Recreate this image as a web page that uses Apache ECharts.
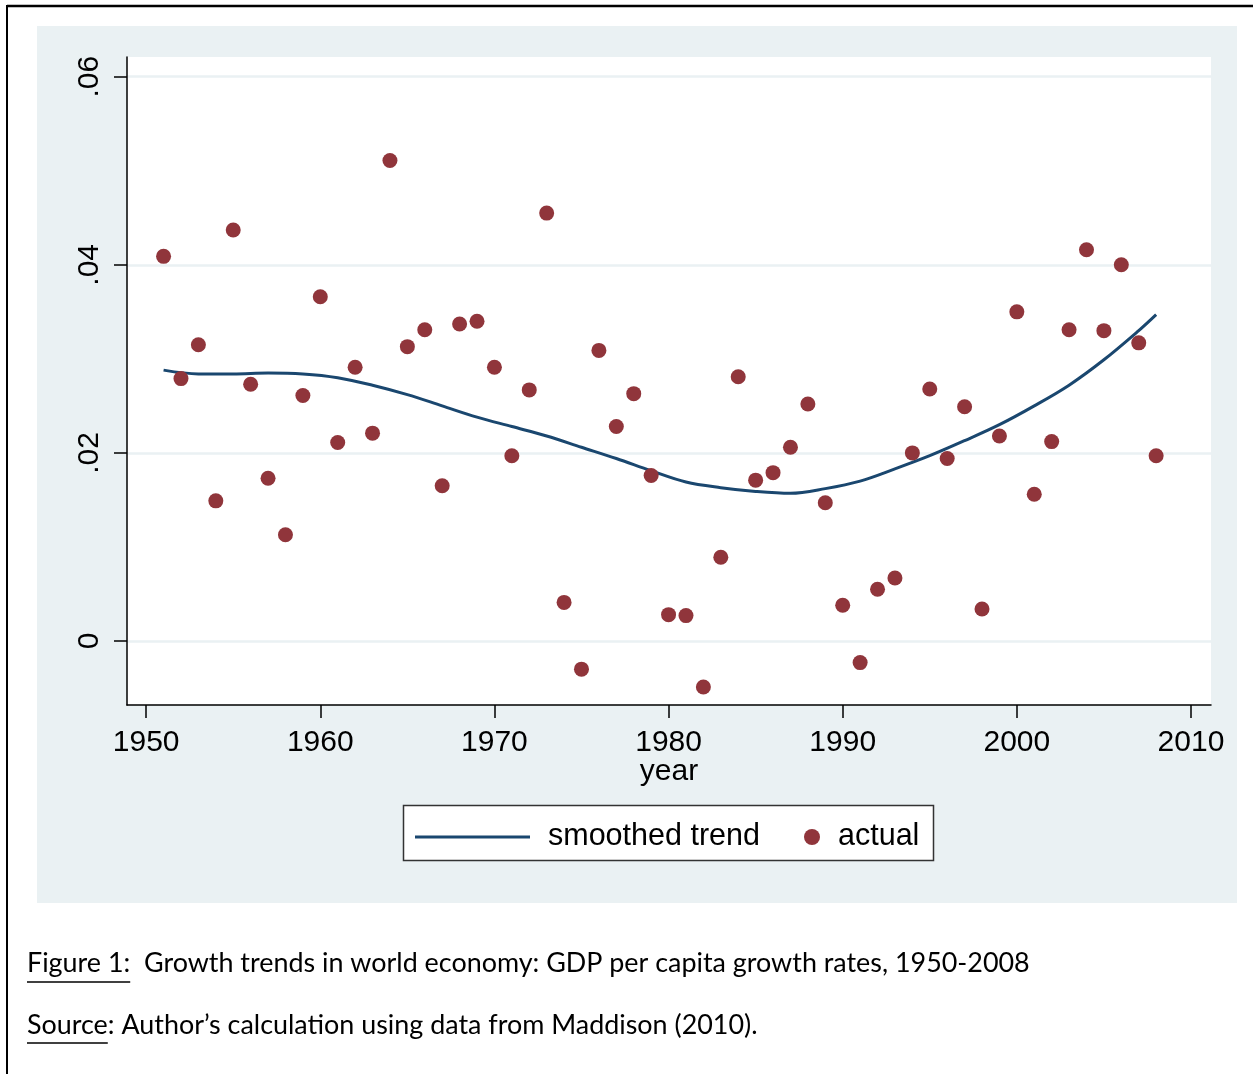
<!DOCTYPE html>
<html>
<head>
<meta charset="utf-8">
<script src="https://cdn.jsdelivr.net/npm/echarts@6/dist/echarts.min.js"></script>
<style>
html,body{margin:0;padding:0;background:#fff;}
#chart{width:1253px;height:1074px;}
</style>
</head>
<body>
<div id="chart"></div>
<script>
// ---- data ----
const actualYears = [1951,1952,1953,1954,1955,1956,1957,1958,1959,1960,1961,1962,1963,1964,1965,1966,1967,1968,1969,1970,1971,1972,1973,1974,1975,1976,1977,1978,1979,1980,1981,1982,1983,1984,1985,1986,1987,1988,1989,1990,1991,1992,1993,1994,1995,1996,1997,1998,1999,2000,2001,2002,2003,2004,2005,2006,2007,2008];
const actualValues = [0.0409,0.0279,0.0315,0.0149,0.0437,0.0273,0.0173,0.0113,0.0261,0.0366,0.0211,0.0291,0.0221,0.0511,0.0313,0.0331,0.0165,0.0337,0.0340,0.0291,0.0197,0.0267,0.0455,0.0041,-0.0030,0.0309,0.0228,0.0263,0.0176,0.0028,0.0027,-0.0049,0.0089,0.0281,0.0171,0.0179,0.0206,0.0252,0.0147,0.0038,-0.0023,0.0055,0.0067,0.0200,0.0268,0.0194,0.0249,0.0034,0.0218,0.0350,0.0156,0.0212,0.0331,0.0416,0.0330,0.0400,0.0317,0.0197];
const trendYears = [1951,1953,1955,1957,1959,1961,1963,1965,1967,1969,1971,1973,1975,1977,1979,1981,1983,1985,1987,1989,1991,1993,1995,1997,1999,2001,2003,2005,2007,2008];
const trendValues = [0.0288,0.0284,0.0284,0.0285,0.0284,0.0280,0.0272,0.0262,0.0250,0.0238,0.0228,0.0218,0.0206,0.0194,0.0181,0.0169,0.0163,0.0159,0.0157,0.0162,0.0170,0.0183,0.0197,0.0213,0.0230,0.0250,0.0272,0.0299,0.0330,0.0347];
const xTicks = [1950,1960,1970,1980,1990,2000,2010];
const yTicks = [0,0.02,0.04,0.06];
const seriesNames = ['smoothed trend','actual'];
const captionFigure = 'Figure 1:';
const captionFigureRest = '  Growth trends in world economy: GDP per capita growth rates, 1950-2008';
const captionSource = 'Source';
const captionSourceRest = ': Author\u2019s calculation using data from Maddison (2010).';

// ---- styles ----
const NAVY = '#1a476f', MAROON = '#90353b', PANEL = '#eaf1f3';
const AX_FONT = 'Liberation Sans, Arial, sans-serif';
const CAP_FONT = 'Lato, "Open Sans", sans-serif';

// caption font size chosen so that first caption line spans the same width as in the figure
const ctx = document.createElement('canvas').getContext('2d');
ctx.font = '100px ' + CAP_FONT;
const CAP_SIZE = Math.round(100 * 1003 / ctx.measureText(captionFigure + captionFigureRest).width * 10) / 10;
ctx.font = CAP_SIZE + 'px ' + CAP_FONT;
const wFig = ctx.measureText(captionFigure).width;
const wSrc = ctx.measureText(captionSource).width;

const chart = echarts.init(document.getElementById('chart'), null, {renderer:'canvas'});
const option = {
  backgroundColor: '#fff',
  animation: false,
  graphic: [
    {type:'rect', z:-10, shape:{x:37,y:26,width:1200,height:877}, style:{fill:PANEL}},
    {type:'line', shape:{x1:7,y1:6,x2:1253,y2:6}, style:{stroke:'#000',lineWidth:2.5}},
    {type:'line', shape:{x1:7,y1:5,x2:7,y2:1074}, style:{stroke:'#000',lineWidth:2}},
    {type:'rect', z:-5, shape:{x:403.5,y:805.5,width:530,height:55}, style:{fill:'#fff',stroke:'#333',lineWidth:1.5}},
    {type:'text', x:27, y:963, style:{text:captionFigure+captionFigureRest, font:CAP_SIZE+'px '+CAP_FONT, fill:'#000', verticalAlign:'middle'}},
    {type:'line', shape:{x1:27,y1:982,x2:27+wFig,y2:982}, style:{stroke:'#000',lineWidth:1.5}},
    {type:'text', x:27, y:1025, style:{text:captionSource+captionSourceRest, font:CAP_SIZE+'px '+CAP_FONT, fill:'#000', verticalAlign:'middle'}},
    {type:'line', shape:{x1:27,y1:1043,x2:27+wSrc,y2:1043}, style:{stroke:'#000',lineWidth:1.5}}
  ],
  legend: [
    {data:[{name:seriesNames[0], icon:'rect'}], left:415, top:821, padding:0, itemWidth:115, itemHeight:3,
     textStyle:{fontFamily:AX_FONT, fontSize:30.5, color:'#000', lineHeight:32, padding:[0,0,0,13]}, selectedMode:false},
    {data:[{name:seriesNames[1], icon:'circle'}], left:804, top:821, padding:0, itemWidth:16, itemHeight:16,
     textStyle:{fontFamily:AX_FONT, fontSize:30.5, color:'#000', lineHeight:32, padding:[0,0,0,13]}, selectedMode:false}
  ],
  grid: {left:127, top:57, right:42, bottom:369, show:true, backgroundColor:'#fff', borderWidth:0, containLabel:false},
  xAxis: {
    type:'value', min:1948.9, max:2011.15,
    name:'year', nameLocation:'middle', nameGap:52, nameMoveOverlap:false,
    nameTextStyle:{fontFamily:AX_FONT, fontSize:30, color:'#000'},
    axisLine:{show:true, onZero:false, lineStyle:{color:'#000', width:1.5}},
    axisTick:{show:true, length:13, lineStyle:{color:'#000', width:1.5}, customValues:xTicks},
    axisLabel:{fontFamily:AX_FONT, fontSize:30, color:'#000', margin:23, customValues:xTicks, formatter: v => String(v)},
    splitLine:{show:false}
  },
  yAxis: {
    type:'value', min:-0.00681, max:0.0621,
    axisLine:{show:true, onZero:false, lineStyle:{color:'#000', width:1.5}},
    axisTick:{show:true, length:13, lineStyle:{color:'#000', width:1.5}, customValues:yTicks},
    axisLabel:{fontFamily:AX_FONT, fontSize:30, color:'#000', margin:22, rotate:90, customValues:yTicks,
      formatter: v => v === 0 ? '0' : String(Number(v.toFixed(2))).replace(/^0/, '')},
    splitLine:{show:true, lineStyle:{color:PANEL, width:2.5}}
  },
  series: [
    {name:seriesNames[0], type:'line', data:trendYears.map((y,i)=>[y,trendValues[i]]), smooth:0.35, showSymbol:false,
     lineStyle:{color:NAVY, width:3}, itemStyle:{color:NAVY}, z:2},
    {name:seriesNames[1], type:'scatter', data:actualYears.map((y,i)=>[y,actualValues[i]]), symbolSize:15,
     itemStyle:{color:MAROON, opacity:1}, z:3}
  ]
};
chart.setOption(option);
</script>
</body>
</html>
